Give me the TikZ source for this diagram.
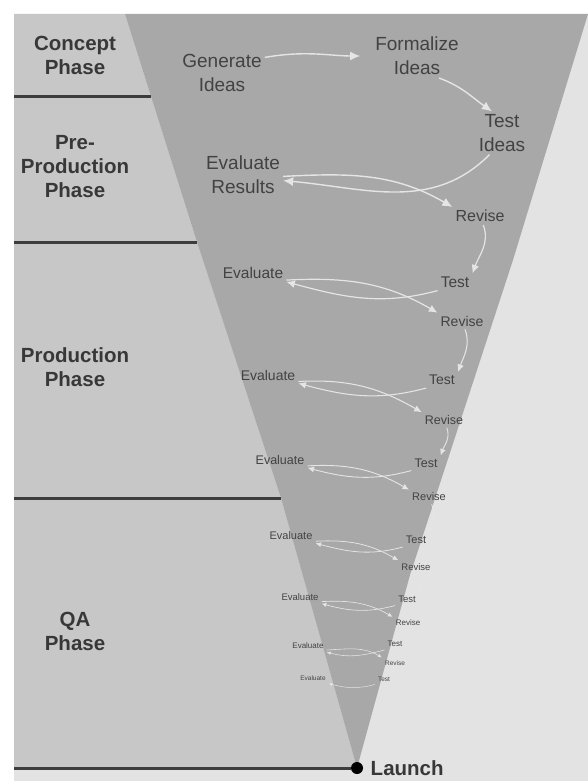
\documentclass[tikz,border=0pt]{standalone}
\usepackage{fontspec}
\setmainfont{Liberation Sans}
\usetikzlibrary{arrows.meta, positioning}
\definecolor{bgLight}{gray}{0.89}
\definecolor{phaseBg}{gray}{0.78}
\definecolor{funnelGray}{gray}{0.66}
\definecolor{lineDark}{gray}{0.24}
\definecolor{labelGray}{gray}{0.22}
\definecolor{stageGray}{gray}{0.26}
\definecolor{flowWhite}{gray}{0.9}
\tikzstyle{phaseLabel}=[font=\bfseries\fontsize{20.5}{24}\selectfont, text=labelGray, align=center]
\tikzstyle{phaseLine}=[draw=lineDark, line width=3pt]
\tikzset{stage/.style={font=\fontsize{#1}{\fpeval{1.25*#1}}\selectfont, text=stageGray, align=center, inner sep=3pt}}
\tikzset{flow/.style={draw=flowWhite, line width=#1*1.4pt, -{Latex[length=10pt,width=9pt,scale=#1]}}}

\begin{document}
\begin{tikzpicture}[x=1pt, y=-1pt]
  \path[use as bounding box, fill=white] (0,0) rectangle (588,781);
  \fill[bgLight] (14,14) rectangle (588,781);
  \fill[phaseBg] (14,14) -- (125,14) -- (197,242) -- (281,498) -- (357,768) -- (14,768) -- cycle;
  \fill[funnelGray] (125,14) -- (588,14) -- (513,260) -- (410,575) -- (357,768)
    -- (281,498) -- (197,242) -- cycle;

  % phases
  \draw[phaseLine] (14,97) -- (151,97);
  \draw[phaseLine] (14,242) -- (197,242);
  \draw[phaseLine] (14,498) -- (281,498);
  \node[phaseLabel] (concept) at (75,55) {Concept\\Phase};
  \node[phaseLabel] (preProd) at (75,167) {Pre-\\Production\\Phase};
  \node[phaseLabel] (prod) at (75,367) {Production\\Phase};
  \node[phaseLabel] (qa) at (75,631) {QA\\Phase};

  \node[circle, fill=black, inner sep=0pt, minimum size=12pt] (apex) at (357,768) {};
  \node[phaseLabel, right=4pt of apex] (launch) {Launch};
  \coordinate (baseStart) at (14,768);
  \draw[phaseLine] (baseStart) -- (apex);

  % steps in the funnel
  \node[stage=19] (gen) at (222,73) {Generate\\Ideas};
  \node[stage=19] (form) at (417,56) {Formalize\\Ideas};
  \node[stage=19] (testI) at (502,133) {Test\\Ideas};
  \node[stage=19] (evalR) at (243,175) {Evaluate\\Results};
  \node[stage=16] (revA) at (480,216) {Revise};
  \node[stage=15.5] (evalB) at (253,273) {Evaluate};
  \node[stage=15.5] (testB) at (455,282) {Test};
  \node[stage=14] (revB) at (462,321) {Revise};
  \node[stage=14] (evalC) at (268,375) {Evaluate};
  \node[stage=14] (testC) at (442,380) {Test};
  \node[stage=12.5] (revC) at (444,420) {Revise};
  \node[stage=12.5] (evalD) at (280,460) {Evaluate};
  \node[stage=12.5] (testD) at (426,463) {Test};
  \node[stage=11] (revD) at (429,497) {Revise};
  \node[stage=11] (evalE) at (291,536) {Evaluate};
  \node[stage=11] (testE) at (416,540) {Test};
  \node[stage=9.5] (revE) at (416,567) {Revise};
  \node[stage=9.5] (evalF) at (300,597) {Evaluate};
  \node[stage=9.5] (testF) at (407,599) {Test};
  \node[stage=8] (revF) at (408,623) {Revise};
  \node[stage=8] (evalG) at (308,646) {Evaluate};
  \node[stage=8] (testG) at (395,644) {Test};
  \node[stage=6.5] (revG) at (395,663) {Revise};
  \node[stage=6.5] (evalH) at (313,678) {Evaluate};
  \node[stage=6.5] (testH) at (384,679) {Test};

  \draw[flow=1, shorten >=12pt] (gen.20) to[out=10, in=180] (form.west);
  \draw[flow=1] (form.-45) to[out=-20, in=145] (testI.115);
  \draw[flow=1] (testI.-120) to[out=-135, in=-5] (evalR.-8);
  \draw[flow=1] (evalR.-2) to[out=3, in=150] (revA.north west);
  \draw[flow=.85] (revA.-70) to[out=-70, in=70] (testB.north east);
  \draw[flow=.85] (testB.south west) to[out=-165, in=-15] (evalB.south east);
  \draw[flow=.85] (evalB.-12) to[out=3, in=150] (revB.north west);
  \draw[flow=.75] (revB.-70) to[out=-70, in=70] (testC.north east);
  \draw[flow=.75] (testC.south west) to[out=-165, in=-15] (evalC.south east);
  \draw[flow=.75] (evalC.-12) to[out=3, in=150] (revC.north west);
  \draw[flow=.65] (revC.-70) to[out=-70, in=70] (testD.north east);
  \draw[flow=.65] (testD.south west) to[out=-165, in=-15] (evalD.south east);
  \draw[flow=.65] (evalD.-12) to[out=3, in=150] (revD.north west);
  \draw[flow=.55] (revD.-70) to[out=-70, in=70] (testE.north east);
  \draw[flow=.55] (testE.south west) to[out=-165, in=-15] (evalE.south east);
  \draw[flow=.55] (evalE.-12) to[out=3, in=150] (revE.north west);
  \draw[flow=.47] (revE.-70) to[out=-70, in=70] (testF.north east);
  \draw[flow=.47] (testF.south west) to[out=-165, in=-15] (evalF.south east);
  \draw[flow=.47] (evalF.-12) to[out=3, in=150] (revF.north west);
  \draw[flow=.4] (revF.-70) to[out=-70, in=70] (testG.north east);
  \draw[flow=.4] (testG.south west) to[out=-165, in=-15] (evalG.south east);
  \draw[flow=.4] (evalG.-12) to[out=3, in=150] (revG.north west);
  \draw[flow=.33] (revG.-70) to[out=-70, in=70] (testH.north east);
  \draw[flow=.33] (testH.south west) to[out=-165, in=-15] (evalH.south east);
\end{tikzpicture}
\end{document}
